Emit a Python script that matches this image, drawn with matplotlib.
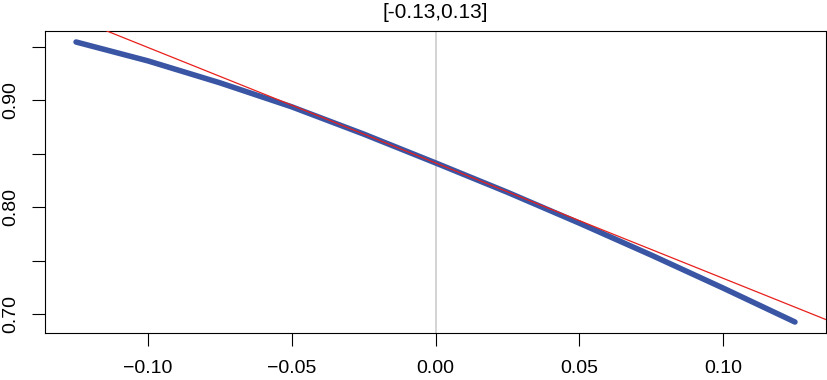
import numpy as np
import matplotlib
matplotlib.use("Agg")
import matplotlib.pyplot as plt

# curve values
x_pts = [-0.125, -0.100, -0.075, -0.050, -0.025, 0.000, 0.025, 0.050, 0.075, 0.100, 0.125]
y_pts = [0.9547, 0.9370, 0.9165, 0.8940, 0.8685, 0.8415, 0.8140, 0.7851, 0.7552, 0.7243, 0.6925]

# tangent line at x = 0
tan_intercept = 0.8415
tan_slope = -1.0806

title = "[-0.13,0.13]"
x_ticks = [-0.10, -0.05, 0.00, 0.05, 0.10]
x_labels = ["\u22120.10", "\u22120.05", "0.00", "0.05", "0.10"]
y_ticks = [0.70, 0.75, 0.80, 0.85, 0.90, 0.95]
y_labels = ["0.70", "", "0.80", "", "0.90", ""]

plt.rcParams['font.family'] = ['Liberation Sans', 'DejaVu Sans']

fig = plt.figure(figsize=(8.27, 3.80), dpi=100)
ax = fig.add_axes([45/827, 1 - 333/380, 781/827, 302/380])

ax.axvline(0, color='#cccccc', lw=1.2, zorder=1)
ax.plot(x_pts, y_pts, color='#3a55a4', lw=4.0, solid_capstyle='round', zorder=2)
ax.axline((0, tan_intercept), slope=tan_slope, color='#e8201c', lw=0.9, zorder=3)

ax.set_xlim(-0.1358, 0.1358)
ax.set_ylim(0.6822, 0.9650)

ax.set_xticks(x_ticks)
ax.set_xticklabels(x_labels)
ax.set_yticks(y_ticks)
ax.set_yticklabels(y_labels, rotation=90, va='center')

ax.tick_params(axis='both', length=9.2, width=0.8, labelsize=14, direction='out', color='black')
ax.tick_params(axis='x', pad=10)
ax.tick_params(axis='y', pad=9)

for s in ax.spines.values():
    s.set_linewidth(0.8)
    s.set_color('black')

ax.set_title(title, fontsize=15, pad=9)

fig.savefig("out.png", dpi=100)
